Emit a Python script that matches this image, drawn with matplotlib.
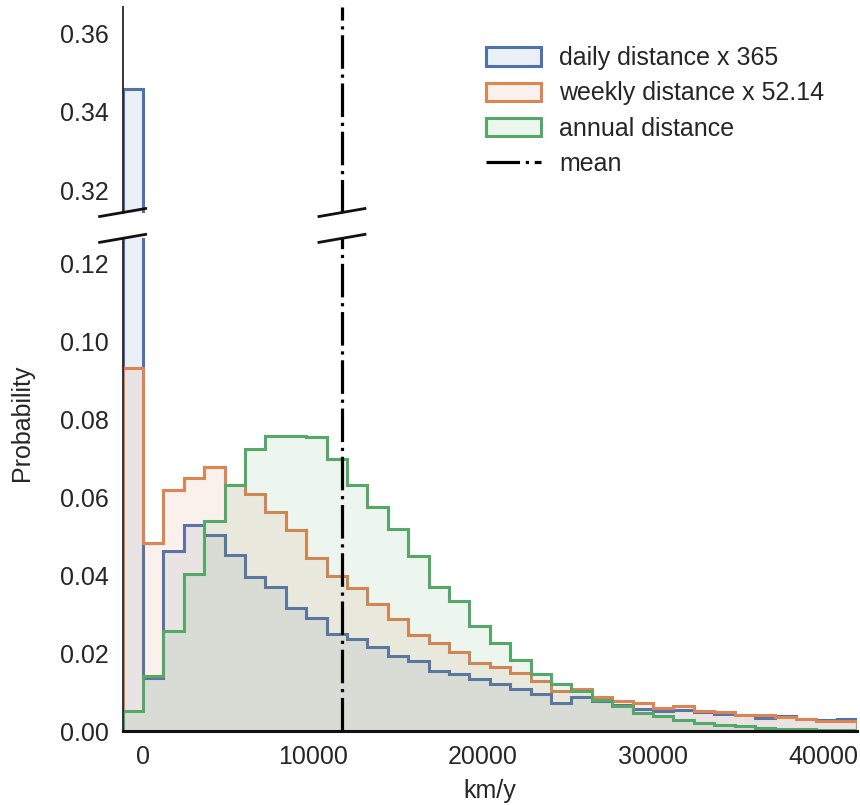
import matplotlib
matplotlib.use("Agg")
import matplotlib.pyplot as plt
import numpy as np
from matplotlib.patches import Patch
from matplotlib.lines import Line2D

plt.rcParams['font.family'] = ['Liberation Sans', 'DejaVu Sans']
plt.rcParams['text.color'] = '#262626'
plt.rcParams['axes.labelcolor'] = '#262626'
plt.rcParams['xtick.color'] = '#262626'
plt.rcParams['ytick.color'] = '#262626'

# histogram bins (km/y)
bin_start = -1200
bin_width = 1200
n_bins = 36

daily = [0.3458, 0.0136, 0.0462, 0.0528, 0.0503, 0.0451, 0.0395, 0.0370, 0.0316,
         0.0290, 0.0250, 0.0237, 0.0216, 0.0192, 0.0180, 0.0155, 0.0147, 0.0134,
         0.0121, 0.0107, 0.0095, 0.0073, 0.0088, 0.0076, 0.0067, 0.0057, 0.0051,
         0.0055, 0.0049, 0.0044, 0.0041, 0.0033, 0.0038, 0.0030, 0.0029, 0.0030]
weekly = [0.0932, 0.0484, 0.0619, 0.0649, 0.0678, 0.0632, 0.0608, 0.0563, 0.0517,
          0.0445, 0.0399, 0.0368, 0.0325, 0.0288, 0.0247, 0.0226, 0.0202, 0.0174,
          0.0164, 0.0149, 0.0129, 0.0104, 0.0107, 0.0088, 0.0076, 0.0071, 0.0060,
          0.0065, 0.0052, 0.0050, 0.0041, 0.0041, 0.0037, 0.0032, 0.0027, 0.0027]
annual = [0.0052, 0.0140, 0.0256, 0.0404, 0.0540, 0.0632, 0.0723, 0.0757, 0.0758,
          0.0754, 0.0698, 0.0632, 0.0574, 0.0518, 0.0449, 0.0370, 0.0335, 0.0269,
          0.0226, 0.0183, 0.0147, 0.0121, 0.0104, 0.0080, 0.0064, 0.0047, 0.0039,
          0.0028, 0.0021, 0.0015, 0.0013, 0.0007, 0.0005, 0.0004, 0.0003, 0.0003]
mean_km = 11700

labels = ['daily distance x 365', 'weekly distance x 52.14', 'annual distance']
colors = ['#4C72B0', '#DD8452', '#55A868']

edges = bin_start + bin_width * np.arange(n_bins + 1)

fig = plt.figure(figsize=(8.6, 8.05), dpi=100)
ax_top = fig.add_axes([0.1426, 0.736, 0.854, 0.2553])
ax_bot = fig.add_axes([0.1426, 0.0919, 0.854, 0.6120])

mean_style = (0, (10.5, 1.8, 1.0, 1.8))

for ax in (ax_top, ax_bot):
    for vals, c in zip([daily, weekly, annual], colors):
        ax.stairs(vals, edges, fill=True, color=c, alpha=0.11, lw=0)
        ax.stairs(vals, edges, color=c, lw=2.2)
    ax.axvline(mean_km, color='black', lw=2.3, linestyle=mean_style)
    ax.set_xlim(edges[0], edges[-1])
    for s in ['top', 'right']:
        ax.spines[s].set_visible(False)
    ax.spines['left'].set_color('#262626')
    ax.spines['left'].set_linewidth(1.3)
    ax.tick_params(length=0, labelsize=18, pad=10)

ax_top.set_ylim(0.3143, 0.3667)
ax_top.set_yticks([0.32, 0.34, 0.36])
ax_top.spines['bottom'].set_visible(False)
ax_top.set_xticks([])

ax_bot.set_ylim(0, 0.1265)
ax_bot.set_yticks(np.arange(0, 0.121, 0.02))
ax_bot.set_xticks([0, 10000, 20000, 30000, 40000])
ax_bot.spines['bottom'].set_color('#111111')
ax_bot.spines['bottom'].set_linewidth(2.2)
ax_bot.set_xlabel('km/y', fontsize=18, labelpad=7)
for ax in (ax_top, ax_bot):
    ax.yaxis.set_major_formatter(matplotlib.ticker.FormatStrFormatter('%.2f'))

fig.text(0.026, 1 - 423 / 805, 'Probability', rotation=90, fontsize=18,
         ha='center', va='center')

# break marks
inv = fig.transFigure.inverted()
for ax, yfrac in ((ax_top, 0.0), (ax_bot, 1.0)):
    for xv in (edges[0], mean_km):
        px, py = ax.get_xaxis_transform().transform((xv, yfrac))
        p0 = inv.transform((px - 23, py - 4))
        p1 = inv.transform((px + 23, py + 4))
        fig.add_artist(Line2D([p0[0], p1[0]], [p0[1], p1[1]],
                              transform=fig.transFigure, color='#111111', lw=2))

handles = [Patch(facecolor=matplotlib.colors.to_rgba(c, 0.11), edgecolor=c, lw=2.2)
           for c in colors]
handles.append(Line2D([], [], color='black', lw=2.3, linestyle=mean_style))
ax_top.legend(handles, labels + ['mean'], loc='upper left', frameon=False,
              bbox_to_anchor=(0.553, 0.955), bbox_transform=fig.transFigure,
              fontsize=18, handlelength=2.2, handleheight=0.75,
              handletextpad=0.75, labelspacing=0.45, borderaxespad=0)

fig.savefig('out.png', dpi=100)
